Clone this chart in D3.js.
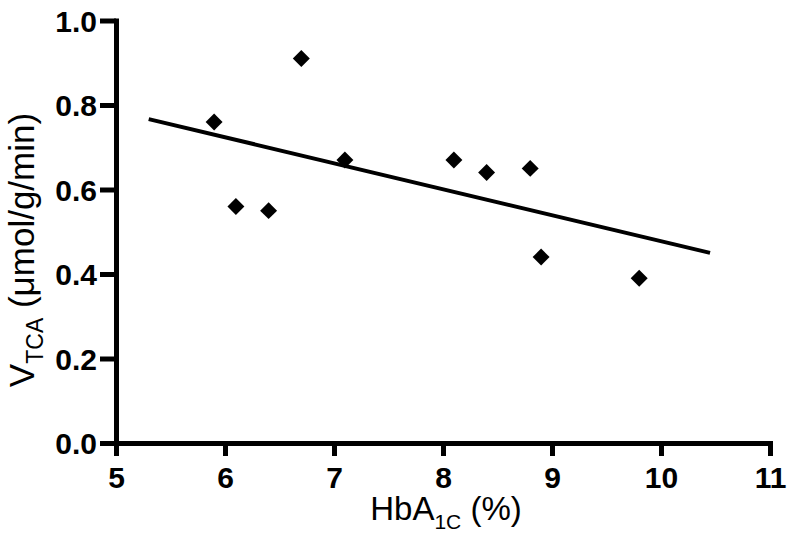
<!DOCTYPE html>
<html>
<head>
<meta charset="utf-8">
<script src="https://cdn.jsdelivr.net/npm/d3@7"></script>
<style>
  body { margin: 0; background: #fff; }
  text { font-family: Arial, "Liberation Sans", sans-serif; }
</style>
</head>
<body>
<div class="svg"></div>
<script>
// values
const hba1c = [5.9, 6.1, 6.4, 6.7, 7.1, 8.1, 8.4, 8.8, 8.9, 9.8];
const vtca = [0.76, 0.56, 0.55, 0.91, 0.67, 0.67, 0.64, 0.65, 0.44, 0.39];
const xTicks = [5, 6, 7, 8, 9, 10, 11];
const yTicks = [0.0, 0.2, 0.4, 0.6, 0.8, 1.0];
const fitRange = [5.3, 10.45];

const w = 787;
const h = 535;

let svg = d3.select(".svg")
            .append("svg")
            .attr("width", w)
            .attr("height", h);

let xScale = d3.scaleLinear().domain([5, 11]).range([116, 770]);
let yScale = d3.scaleLinear().domain([0, 1]).range([443, 20.5]);

// least squares fit
let mx = d3.mean(hba1c), my = d3.mean(vtca);
let sxy = d3.sum(hba1c, (d, i) => (d - mx) * (vtca[i] - my));
let sxx = d3.sum(hba1c, d => (d - mx) * (d - mx));
let slope = sxy / sxx;
let icept = my - slope * mx;

let createAxis = () => {
    const xAxis = d3.axisBottom(xScale)
                    .tickValues(xTicks)
                    .tickFormat(d3.format("d"))
                    .tickSize(13)
                    .tickSizeOuter(0);
    let gx = svg.append("g")
       .attr("transform", "translate(0," + yScale(0) + ")")
       .call(xAxis);

    const yAxis = d3.axisLeft(yScale)
                    .tickValues(yTicks)
                    .tickFormat(d3.format(".1f"))
                    .tickSize(16)
                    .tickSizeOuter(0);
    let gy = svg.append("g")
       .attr("transform", "translate(" + xScale(5) + ",0)")
       .call(yAxis);

    [gx, gy].forEach(g => {
        g.select(".domain").attr("stroke", "#000").attr("stroke-width", 5).attr("stroke-linecap", "square");
        g.selectAll(".tick line").attr("stroke", "#000").attr("stroke-width", 5);
        g.selectAll(".tick text")
         .attr("fill", "#000")
         .style("font-size", "30px")
         .style("font-weight", "bold");
    });
    gx.selectAll(".tick text").attr("y", 45).attr("dy", null);
    gy.selectAll(".tick text").attr("x", -19).attr("dy", "0.36em");

    // x title
    let xt = svg.append("text")
       .attr("x", 446)
       .attr("y", 520)
       .attr("text-anchor", "middle")
       .style("font-size", "33px");
    xt.append("tspan").text("HbA");
    xt.append("tspan").text("1C").style("font-size", "21px").attr("dy", 9);
    xt.append("tspan").text(" (%)").attr("dy", -9);

    // y title
    let yt = svg.append("text")
       .attr("transform", "translate(34,250) rotate(-90)")
       .attr("text-anchor", "middle")
       .style("font-size", "35px");
    yt.append("tspan").text("V");
    yt.append("tspan").text("TCA").style("font-size", "23px").attr("dy", 9);
    yt.append("tspan").text(" (\u03bcmol/g/min)").attr("dy", -9);
}

let plotData = () => {
    svg.append("line")
       .attr("x1", xScale(fitRange[0]))
       .attr("y1", yScale(icept + slope * fitRange[0]))
       .attr("x2", xScale(fitRange[1]))
       .attr("y2", yScale(icept + slope * fitRange[1]))
       .attr("stroke", "#000")
       .attr("stroke-width", 4);

    svg.selectAll(".dot")
       .data(hba1c)
       .enter()
       .append("path")
       .attr("class", "dot")
       .attr("d", d3.symbol().type(d3.symbolSquare).size(144))
       .attr("transform", (d, i) => "translate(" + xScale(d) + "," + yScale(vtca[i]) + ") rotate(45)")
       .attr("fill", "#000");
}

createAxis();
plotData();
</script>
</body>
</html>
